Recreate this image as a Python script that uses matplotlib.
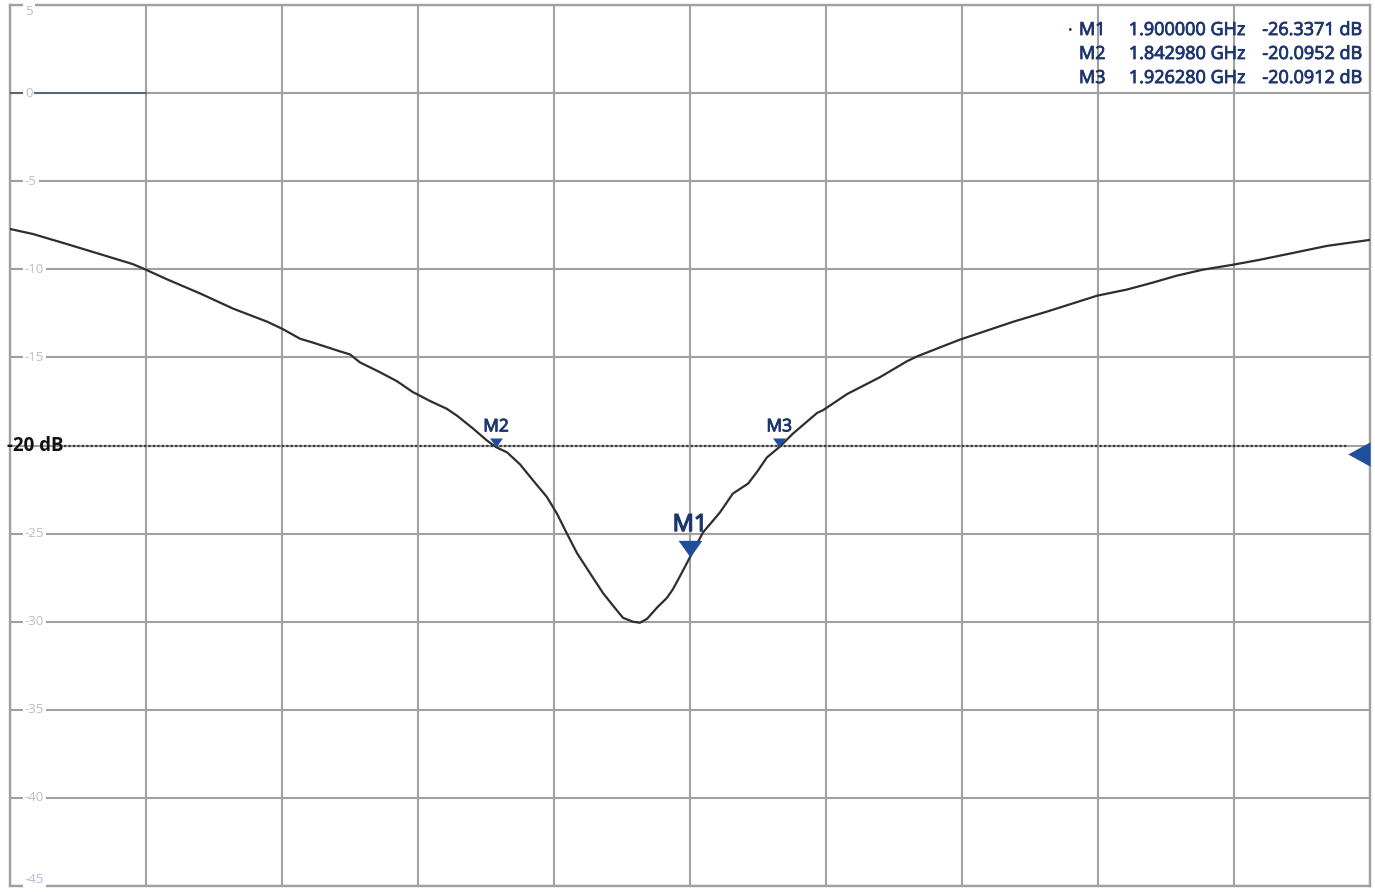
import numpy as np
import matplotlib
matplotlib.use("Agg")
import matplotlib.pyplot as plt
from matplotlib import transforms
import matplotlib.patheffects as pe

plt.rcParams['font.family'] = ['Open Sans', 'DejaVu Sans']

# S11 trace (GHz, dB)
freq_ghz = [1.7000, 1.7068, 1.7168, 1.7265, 1.7362, 1.7397, 1.7462, 1.7559,
            1.7656, 1.7756, 1.7803, 1.7853, 1.7891, 1.7971, 1.8000, 1.8029,
            1.8088, 1.8138, 1.8185, 1.8235, 1.8285, 1.8315, 1.8362, 1.8403,
            1.84298, 1.8462, 1.8500, 1.8538, 1.8579, 1.8609, 1.8638, 1.8668,
            1.8706, 1.8744, 1.8774, 1.8803, 1.8832, 1.8853, 1.8874, 1.8903,
            1.8932, 1.8950, 1.8971, 1.9000, 1.9038, 1.9088, 1.9126, 1.9171,
            1.9200, 1.9226, 1.92628, 1.9303, 1.9374, 1.9391, 1.9462, 1.9559,
            1.9638, 1.9668, 1.9794, 1.9950, 2.0050, 2.0197, 2.0285, 2.0362,
            2.0432, 2.0509, 2.0597, 2.0676, 2.0774, 2.0874, 2.1000]
s11_db = [-7.71, -8.00, -8.57, -9.14, -9.71, -10.00, -10.57, -11.37,
          -12.23, -12.97, -13.40, -13.94, -14.16, -14.66, -14.83, -15.28,
          -15.84, -16.35, -16.97, -17.47, -17.92, -18.31, -19.04, -19.72,
          -20.0952, -20.39, -21.07, -21.97, -22.92, -23.88, -25.00, -26.12,
          -27.25, -28.37, -29.10, -29.78, -30.00, -30.06, -29.83, -29.20,
          -28.65, -28.15, -27.40, -26.3371, -24.94, -23.80, -22.73, -22.16,
          -21.42, -20.68, -20.0912, -19.32, -18.15, -18.00, -17.08, -16.12,
          -15.22, -14.94, -13.99, -12.98, -12.40, -11.50, -11.15, -10.75,
          -10.36, -10.02, -9.74, -9.46, -9.07, -8.67, -8.33]

# Markers
marker_names = ["M1", "M2", "M3"]
marker_freq = [1.900000, 1.842980, 1.926280]
marker_db = [-26.3371, -20.0952, -20.0912]

# Axis setup
f_start, f_stop = 1.7, 2.1
y_top, y_bottom = 5, -45
y_ticks = [5, 0, -5, -10, -15, -20, -25, -30, -35, -40, -45]
limit_db = -20

grid_col = "#a0a0a0"
trace_col = "#2e2e2e"
mk_col = "#1f4e9c"
txt_col = "#1e3570"
heavy = [pe.withStroke(linewidth=0.6, foreground=txt_col)]

# Down-pointing triangle whose tip sits on the anchor point
tri_down = [(-1.0, 1.4), (1.0, 1.4), (0.0, 0.0), (-1.0, 1.4)]
# Left-pointing triangle whose base sits on the anchor point
tri_left = [(-1.0, 0.0), (0.0, -0.55), (0.0, 0.55), (-1.0, 0.0)]

fig = plt.figure(figsize=(13.75, 8.92), dpi=100)
ax = fig.add_axes([10/1375, 1 - 886/892, 1360/1375, 881/892])
ax.set_xlim(f_start, f_stop)
ax.set_ylim(y_bottom, y_top)
ax.set_xticks(np.linspace(f_start, f_stop, 11))
ax.set_yticks(y_ticks)
ax.tick_params(left=False, bottom=False, labelleft=False, labelbottom=False)
ax.grid(True, color=grid_col, lw=1.5)
for s in ax.spines.values():
    s.set_color(grid_col)
    s.set_linewidth(1.7)

# Scale labels drawn inside the grid
ylab = transforms.blended_transform_factory(ax.transAxes, ax.transData)
for v in y_ticks:
    if v == limit_db:
        continue
    va = "center"
    if v == y_top:
        va = "top"
    elif v == y_bottom:
        va = "bottom"
    ax.text(0.011, v, f"{v}", transform=ylab, ha="left", va=va,
            fontsize=9.5, color="#bdbdbd" if v != y_bottom else "#a9bfdc",
            zorder=4,
            bbox=dict(boxstyle="square,pad=0.15", fc="white", ec="none"))
ax.plot([0.0, 0.1], [0, 0], transform=ylab, color="#56657a", lw=1.4, zorder=3)

# Limit line at -20 dB
ax.plot([0.04, 0.984], [limit_db, limit_db], transform=ylab,
        color="#3a3a3a", lw=1.6, ls=(0, (1, 1)), zorder=3)
ax.text(-0.002, limit_db, "-20 dB", transform=ylab, ha="left", va="center",
        fontsize=13.5, fontweight="bold", color="#111111", zorder=5)
ax.plot([1.0], [limit_db - 0.5], transform=ylab, marker=tri_left, ms=32,
        color=mk_col, clip_on=False, zorder=6, markeredgewidth=0)

# Trace
ax.plot(freq_ghz, s11_db, color=trace_col, lw=1.6, zorder=5)

# Marker triangles with tip on the trace
for name, f, d in zip(marker_names, marker_freq, marker_db):
    big = name == "M1"
    ms = 24 if big else 13
    ax.plot([f], [d], marker=tri_down, ms=ms, color=mk_col,
            markeredgewidth=0, zorder=7)
    lab_off = transforms.offset_copy(ax.transData, fig=fig, x=0,
                                     y=ms * 0.5 + (2.5 if big else 2),
                                     units="points")
    ax.text(f, d, name, transform=lab_off, ha="center", va="bottom",
            fontsize=17 if big else 12.5, color=txt_col, zorder=7,
            path_effects=[pe.withStroke(linewidth=1.0 if big else 0.7,
                                        foreground=txt_col)])

# Marker readout table
rows_y = [0.9716, 0.9444, 0.9171]
for i, (name, f, d) in enumerate(zip(marker_names, marker_freq, marker_db)):
    y = rows_y[i]
    if i == 0:
        ax.text(0.778, y, "•", transform=ax.transAxes, ha="left", va="center",
                fontsize=9, color=txt_col)
    kw = dict(transform=ax.transAxes, va="center", fontsize=13,
              color=txt_col, path_effects=heavy)
    ax.text(0.786, y, name, ha="left", **kw)
    ax.text(0.908, y, f"{f:.6f} GHz", ha="right", **kw)
    ax.text(0.994, y, f"{d:.4f} dB", ha="right", **kw)

fig.savefig("out.png", dpi=100)
